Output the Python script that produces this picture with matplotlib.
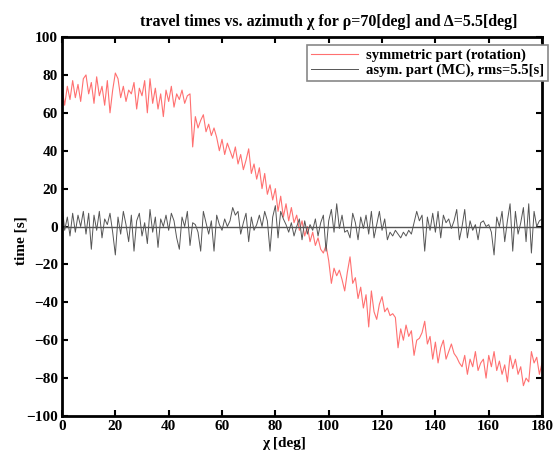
import numpy as np
import matplotlib
matplotlib.use("Agg")
import matplotlib.pyplot as plt

# azimuth grid [deg]
chi = np.arange(0, 181)

# symmetric part (rotation) [s]
sym_part = [
    73, 64, 74, 67, 77, 68, 75, 66, 78, 80,
    70, 76, 65, 79, 69, 74, 64, 77, 60, 72,
    81, 78, 68, 74, 66, 72, 70, 76, 62, 73,
    69, 77, 60, 78, 65, 73, 62, 70, 58, 72,
    66, 74, 63, 70, 67, 72, 65, 69, 70, 42,
    58, 52, 56, 59, 50, 54, 48, 52, 47, 40,
    46, 38, 44, 40, 36, 42, 33, 38, 30, 35,
    41, 28, 33, 25, 31, 20, 28, 17, 22, 14,
    20, 8, 16, 5, 12, 3, 10, 2, 6, -2,
    3, -5, 0, -8, -3, -10, -6, -12, -14, -10,
    -18, -30, -22, -26, -23, -28, -34, -24, -16, -30,
    -27, -38, -32, -43, -36, -53, -34, -45, -49, -41,
    -37, -45, -43, -47, -46, -48, -64, -54, -60, -52,
    -58, -55, -68, -60, -59, -56, -50, -62, -58, -70,
    -61, -72, -64, -60, -70, -66, -62, -67, -69, -72,
    -74, -68, -78, -70, -74, -66, -76, -72, -70, -80,
    -68, -74, -66, -76, -71, -78, -73, -82, -68, -75,
    -70, -78, -74, -84, -80, -82, -66, -72, -69, -78,
    -72,
]

# asymmetric part (MC) [s]
asym_part = [
    12, -2, 5, -5, 7, -3, 6, 0, 8, -4,
    7, -12, 6, -2, 8, -6, 4, 1, 7, -3,
    -15, 5, -4, 8, 1, -8, 6, -13, 3, 7,
    -5, 2, -9, 9, -3, 5, -11, 4, 0, 6,
    -2, 7, 3, -6, -12, 5, 0, 8, -10, 2,
    1, -3, -13, 8, 2, -4, 3, -13, 6, 1,
    -2, 4, 0, 3, 10, 6, 8, -4, 2, 7,
    -8, 5, -2, 1, 6, 0, 8, 3, -13, 5,
    11, -6, 8, 4, 1, -3, 2, -5, 0, 4,
    -7, 3, -4, 1, -2, 4, -5, 2, 6, -13,
    3, 9, -3, 12, -1, 6, -3, -2, -6, 7,
    2, -7, 5, -1, 6, -4, 8, -6, 1, 8,
    -2, 4, -7, -3, -5, -2, -4, -6, -3, -5,
    -2, -4, 2, 8, 3, 6, -13, 5, -2, 7,
    -3, 8, -6, 6, 2, 4, -1, 3, 9, -7,
    0, 9, -6, 3, -2, 1, -7, 2, 3, 0,
    1, -3, -15, 5, 0, 8, -8, 3, 12, -13,
    8, -4, 2, 10, -8, 12, -14, 8, 0, 3,
    4,
]

plt.rcParams["font.family"] = "Liberation Serif"
plt.rcParams["font.weight"] = "bold"

fig = plt.figure(figsize=(5.55, 4.57), dpi=100)
ax = fig.add_axes([0.1117, 0.0897, 0.865, 0.8293])

ax.plot(chi, sym_part, color="#ff7070", lw=0.8, label="symmetric part (rotation)")
ax.plot(chi, asym_part, color="#555555", lw=0.7, label="asym. part (MC), rms=5.5[s]")
ax.axhline(0, color="#555555", lw=1.0)

ax.set_xlim(0, 180)
ax.set_ylim(-100, 100)
ax.set_xticks(np.arange(0, 181, 20))
ax.set_yticks(np.arange(-100, 101, 20))
ax.tick_params(direction="in", top=True, right=True, length=4, width=1.5,
               labelsize=11, pad=3)
for s in ax.spines.values():
    s.set_linewidth(2)

ax.set_xlabel("χ [deg]", fontsize=11, fontweight="bold", labelpad=0)
ax.xaxis.set_label_coords(0.463, -0.055)
ax.set_ylabel("time [s]", fontsize=11, fontweight="bold", labelpad=2)
ax.yaxis.set_label_coords(-0.072, 0.464)
ax.set_title("travel times vs. azimuth χ for ρ=70[deg] and Δ=5.5[deg]",
             fontsize=11.5, fontweight="bold", pad=8, x=0.556)

leg = ax.legend(loc="upper right", bbox_to_anchor=(1.022, 0.99), fontsize=10.5,
                fancybox=False, framealpha=1, edgecolor="#888888",
                borderpad=0.25, handlelength=3.2, labelspacing=0.1,
                borderaxespad=0.3, handletextpad=0.6)
leg.get_frame().set_linewidth(1.2)

fig.savefig("out.png", dpi=100)
